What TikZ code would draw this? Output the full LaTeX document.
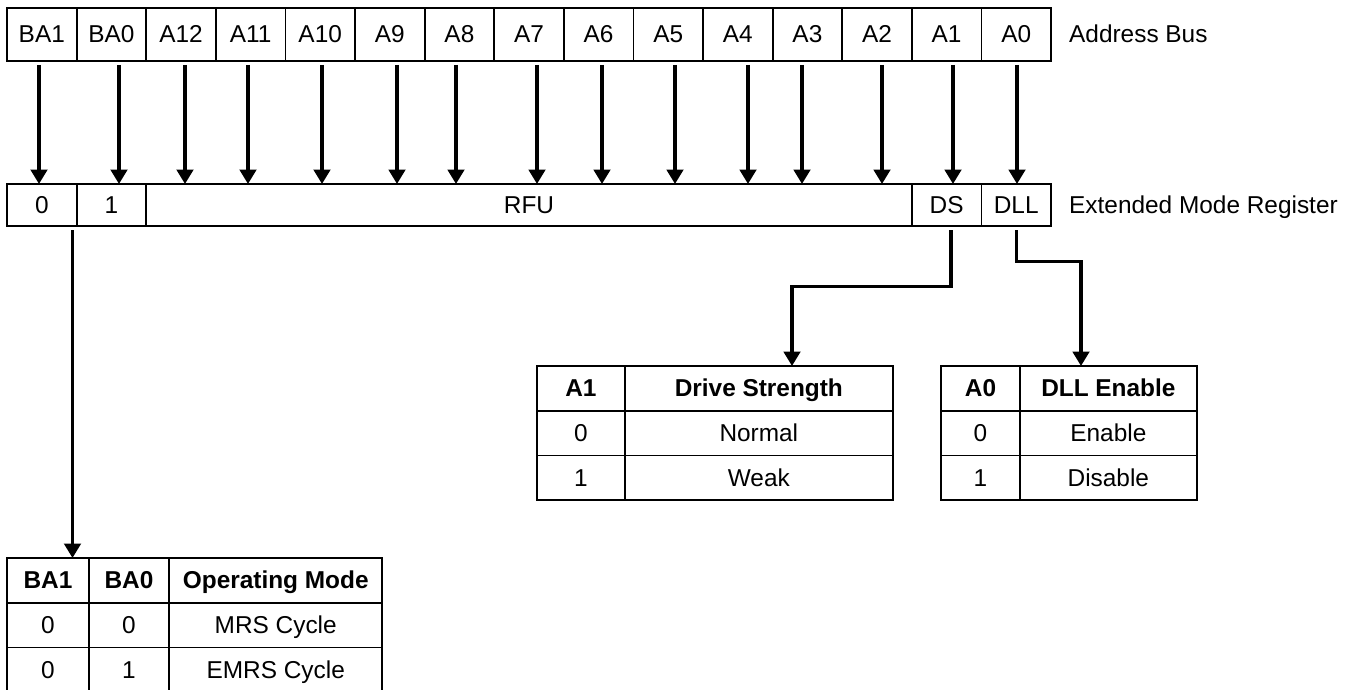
\documentclass[tikz,border=0pt]{standalone}
\usepackage{fontspec}
\setmainfont{Liberation Sans}
\usetikzlibrary{arrows.meta}
\begin{document}
\begin{tikzpicture}[x=1pt,y=-1pt,
  txt/.style={font=\fontsize{24.4}{28}\selectfont},
  cell/.style={draw, line width=1.8pt, inner sep=0pt, outer sep=0pt, text height=17pt, text depth=0pt, txt},
  bus/.style={cell, minimum width=69.6pt, minimum height=53pt},
  reg/.style={cell, minimum height=42pt},
  tcell/.style={cell, minimum height=44.7pt},
  thead/.style={tcell, font=\fontsize{24.4}{28}\selectfont\bfseries},
  lbl/.style={txt, anchor=west, inner sep=0pt, text height=17pt, text depth=0pt},
  arr/.style={line width=3.4pt, -{Triangle[width=16.5pt,length=14.5pt]}},
  elbow/.style={line width=3.3pt}
]
\useasboundingbox (0,0) rectangle (1349,690);
\clip (0,0) rectangle (1349,690);

% Address bus
\foreach \lab [count=\i] in {BA1,BA0,A12,A11,A10,A9,A8,A7,A6,A5,A4,A3,A2,A1,A0}
  \node[bus] (t\i) at ({7+69.6*(\i-0.5)},34.5) {\lab};
\node[lbl] (ab) at (1069,34.5) {Address Bus};

% Extended mode register
\node[reg, minimum width=69.6pt] (r1) at (41.8,205) {0};
\node[reg, minimum width=69.6pt] (r2) at (111.4,205) {1};
\node[reg, minimum width=765.6pt] (rfu) at (529,205) {RFU};
\node[reg, minimum width=69.6pt] (ds) at (946.6,205) {DS};
\node[reg, minimum width=69.6pt] (dll) at (1016.2,205) {DLL};
\node[lbl] (emr) at (1069,205) {Extended Mode Register};

% bus arrows
\foreach \i/\x in {1/39,2/119,3/185,4/248,5/322,6/397,7/456,8/537,9/602,10/675,11/748,12/802,13/882,14/953,15/1017}{
  \coordinate (x\i) at (\x,0);
  \draw[arr, shorten <=4pt] (t\i.south -| x\i) -- (x\i |- rfu.north);
}

% Drive strength table
\node[thead, minimum width=88.3pt] (d11) at (580.85,388.35) {A1};
\node[thead, minimum width=267.7pt] (d12) at (758.85,388.35) {Drive Strength};
\node[tcell, minimum width=88.3pt] (d21) at (580.85,433.05) {0};
\node[tcell, minimum width=267.7pt] (d22) at (758.85,433.05) {Normal};
\node[tcell, minimum width=88.3pt] (d31) at (580.85,477.75) {1};
\node[tcell, minimum width=267.7pt] (d32) at (758.85,477.75) {Weak};

% DLL table
\node[thead, minimum width=79pt] (e11) at (980.5,388.35) {A0};
\node[thead, minimum width=176.7pt] (e12) at (1108.35,388.35) {DLL Enable};
\node[tcell, minimum width=79pt] (e21) at (980.5,433.05) {0};
\node[tcell, minimum width=176.7pt] (e22) at (1108.35,433.05) {Enable};
\node[tcell, minimum width=79pt] (e31) at (980.5,477.75) {1};
\node[tcell, minimum width=176.7pt] (e32) at (1108.35,477.75) {Disable};

% Operating mode table
\node[thead, minimum width=81.5pt] (m11) at (48,580.35) {BA1};
\node[thead, minimum width=80.5pt] (m12) at (129,580.35) {BA0};
\node[thead, minimum width=213pt] (m13) at (275.75,580.35) {Operating Mode};
\node[tcell, minimum width=81.5pt] (m21) at (48,625.05) {0};
\node[tcell, minimum width=80.5pt] (m22) at (129,625.05) {0};
\node[tcell, minimum width=213pt] (m23) at (275.75,625.05) {MRS Cycle};
\node[tcell, minimum width=81.5pt] (m31) at (48,669.75) {0};
\node[tcell, minimum width=80.5pt] (m32) at (129,669.75) {1};
\node[tcell, minimum width=213pt] (m33) at (275.75,669.75) {EMRS Cycle};

% connectors
\coordinate (xm) at (72.5,0);
\draw[arr, shorten <=4pt] (r1.south -| xm) -- (xm |- m11.north);

\coordinate (xds) at (951,0);
\coordinate (dsk) at (792,286.7);
\draw[elbow, shorten <=4pt] (ds.south -| xds) |- (dsk);
\draw[arr] (dsk) ++(-1.65,0) -- ++(1.65,0) -- (dsk |- d12.north);

\coordinate (dllk) at (1081,261.7);
\draw[elbow, shorten <=4pt] (dll.south) |- (dllk);
\draw[arr] (dllk) ++(-1.65,0) -- ++(1.65,0) -- (dllk |- e12.north);
\end{tikzpicture}
\end{document}
